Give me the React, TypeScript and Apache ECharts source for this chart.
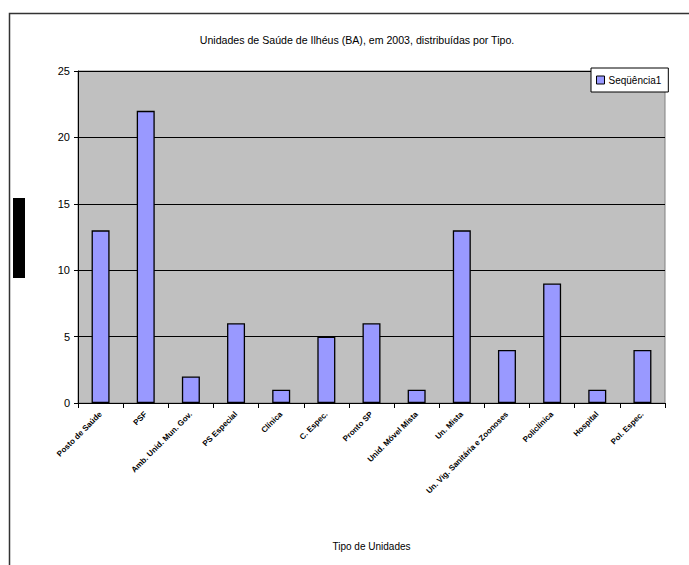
import React, { useEffect, useRef } from "react";
import * as echarts from "echarts";

const categories = [
  "Posto de Saúde",
  "PSF",
  "Amb. Unid. Mun. Gov.",
  "PS Especial",
  "Clínica",
  "C. Espec.",
  "Pronto SP",
  "Unid. Móvel Mista",
  "Un. Mista",
  "Un. Vig. Sanitária e Zoonoses",
  "Policlínica",
  "Hospital",
  "Pol. Espec.",
];
const values = [13, 22, 2, 6, 1, 5, 6, 1, 13, 4, 9, 1, 4];
const seriesName = "Seqüência1";
const yTicks = [0, 5, 10, 15, 20, 25];

export default function App() {
  const ref = useRef<HTMLDivElement>(null);
  useEffect(() => {
    const chart = echarts.init(ref.current!, null, { renderer: "svg" });
    const font = "Arial, 'Liberation Sans', sans-serif";
    chart.setOption({
      animation: false,
      backgroundColor: "#ffffff",
      textStyle: { fontFamily: font },
      title: {
        text: "Unidades de Saúde de Ilhéus (BA), em 2003, distribuídas por Tipo.",
        left: 352,
        top: 29,
        textAlign: "center",
        textStyle: { fontSize: 10.6, fontWeight: "normal", color: "#000", fontFamily: font },
      },
      legend: {
        left: 591,
        top: 68,
        itemWidth: 8,
        itemHeight: 8,
        itemGap: 4,
        padding: [7, 7, 7, 5],
        backgroundColor: "#ffffff",
        borderColor: "#000",
        borderWidth: 1,
        icon: "rect",
        textStyle: { fontSize: 10, color: "#000", fontFamily: font, padding: [0, 0, 0, -1] },
        data: [{ name: seriesName, itemStyle: { color: "#9999FF", borderColor: "#000", borderWidth: 1 } }],
      },
      grid: { left: 78, top: 71, width: 587, height: 332, show: true, backgroundColor: "#C0C0C0", borderColor: "#808080", borderWidth: 1 },
      xAxis: {
        type: "category",
        data: categories,
        name: "Tipo de Unidades",
        nameLocation: "middle",
        nameGap: 138,
        nameTextStyle: { fontSize: 10, color: "#000", fontFamily: font },
        axisLine: { lineStyle: { color: "#000", width: 1 } },
        axisTick: { show: true, alignWithLabel: false, length: 5, lineStyle: { color: "#000" } },
        axisLabel: { rotate: 45, interval: 0, fontSize: 8, fontWeight: "bold", color: "#000", margin: 10, fontFamily: font },
      },
      yAxis: {
        type: "value",
        min: 0,
        max: 25,
        interval: 5,
        axisLine: { show: true, lineStyle: { color: "#000", width: 1 } },
        axisTick: { show: true, length: 4, lineStyle: { color: "#000" } },
        axisLabel: { fontSize: 11, color: "#000", margin: 8, fontFamily: font, formatter: (v: number) => (yTicks.includes(v) ? String(v) : "") },
        splitLine: { show: true, lineStyle: { color: "#000", width: 1 } },
      },
      series: [
        {
          name: seriesName,
          type: "bar",
          data: values,
          barWidth: 18,
          itemStyle: { color: "#9999FF", borderColor: "#000", borderWidth: 1.3 },
        },
      ],
      graphic: [
        { type: "rect", shape: { x: 9.5, y: 13.5, width: 800, height: 800 }, style: { fill: "none", stroke: "#333", lineWidth: 1.5 }, silent: true, z: -1 },
        { type: "rect", shape: { x: 13, y: 198, width: 12, height: 80 }, style: { fill: "#000" }, silent: true },
      ],
    });
    return () => chart.dispose();
  }, []);
  return <div ref={ref} style={{ position: "absolute", left: 0, top: 0, width: 689, height: 565 }} />;
}
